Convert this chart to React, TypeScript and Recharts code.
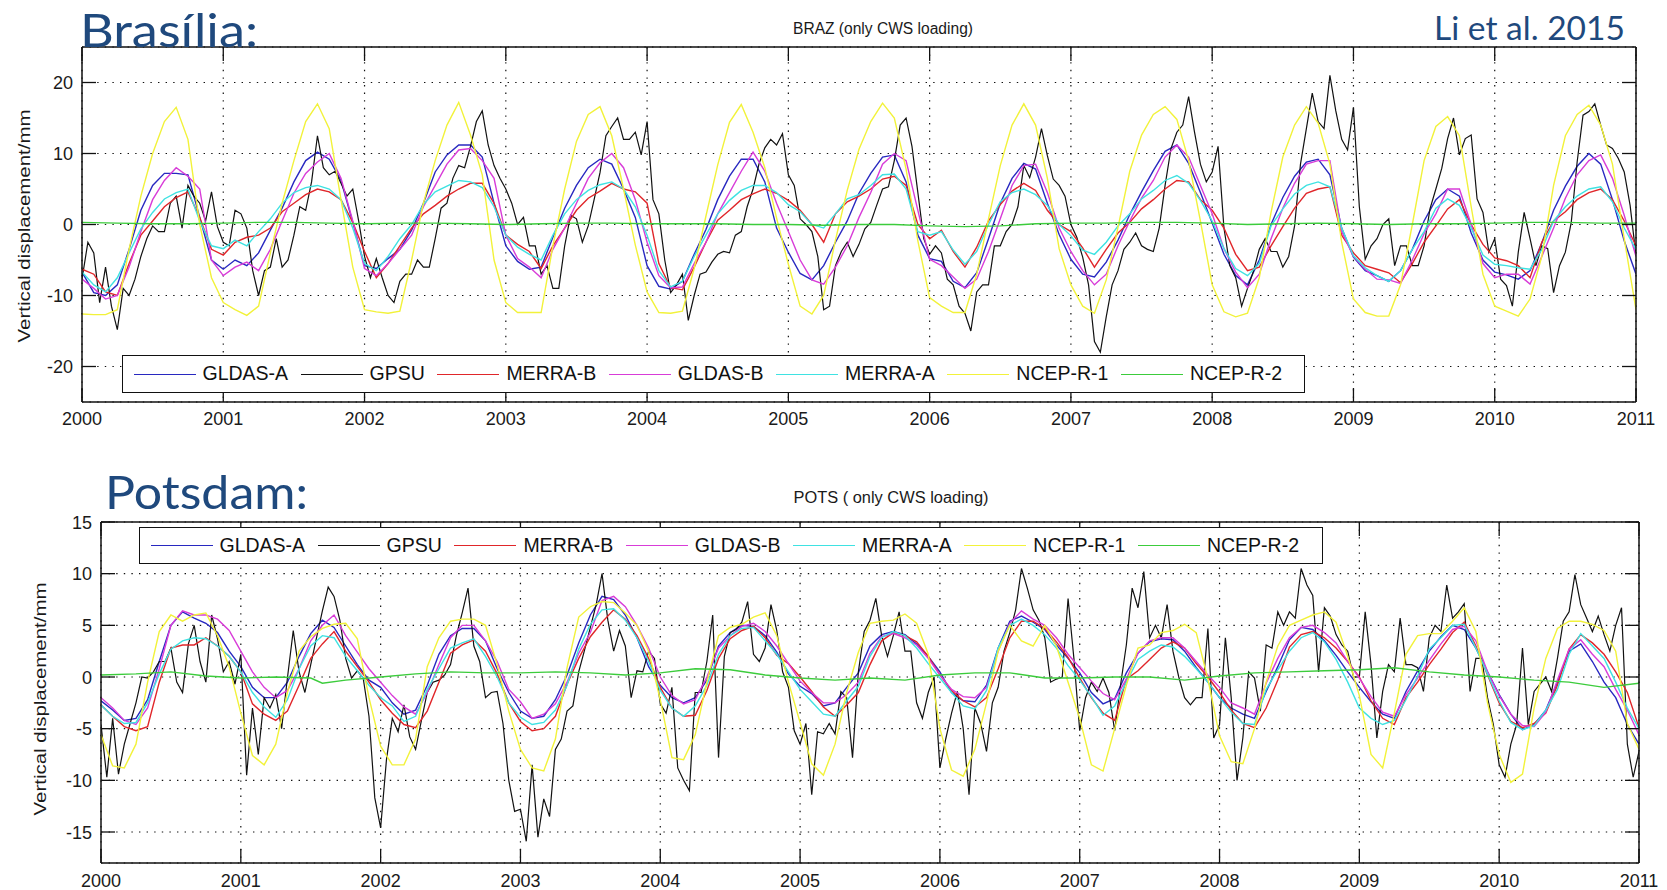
import React from "react";
import { LineChart, Line, XAxis, YAxis, CartesianGrid, Legend } from "recharts";

// ---------- axis ticks / labels ----------
const YEAR_TICKS = [2000, 2001, 2002, 2003, 2004, 2005, 2006, 2007, 2008, 2009, 2010, 2011];
const BRAZ_Y_TICKS = [-20, -10, 0, 10, 20];
const POTS_Y_TICKS = [-15, -10, -5, 0, 5, 10, 15];

const SERIES = ["GLDAS-A", "GPSU", "MERRA-B", "GLDAS-B", "MERRA-A", "NCEP-R-1", "NCEP-R-2"];
const COLORS = ["#2828c0", "#111111", "#e0262a", "#d83cd8", "#3fe2e2", "#f2f23a", "#3ccc3c"];

// ---------- BRAZ (monthly, Jan 2000 ... Jan 2011) ----------
const BRAZ_GLDAS_A = [
  -6.7, -9.6, -10, -8.5, -3.5, 2, 5.5, 7.2, 7.2, 7, 1, -5,
  -6.3, -5, -5.8, -4, -0.8, 2.3, 6, 9, 10.2, 9.2, 6.2, 0.3,
  -5.8, -6.2, -4.8, -3.5, -0.8, 3, 7.4, 9.8, 11.2, 11.2, 9.5, 3,
  -3, -5.2, -6.3, -6, -1.8, 2.3, 5.5, 8, 9.2, 8.5, 5, 1,
  -5.8, -8.7, -9.1, -8, -4.2, -0.7, 3.5, 6.8, 9.2, 9.2, 6, -0.5,
  -3.9, -6.9, -7.8, -5.8, -2.5, 0.5, 4.4, 7.2, 9.5, 9.8, 6, -1.5,
  -4.8, -5.2, -8, -8.9, -6.8, -2, 3, 6.5, 8.6, 7.8, 3, -1.4,
  -4.9, -7, -7.4, -5.3, -2.2, 1.4, 4.6, 7.6, 10.3, 11.2, 8.6, 4.5,
  0.2, -4.2, -7.2, -8.5, -5, 0, 3.8, 6.8, 8.8, 9.2, 7, -0.5,
  -4.6, -6.5, -7.2, -8, -6.5, -3.5, 0.5, 3.5, 5, 4, -1.2, -5,
  -6.7, -7.1, -7.7, -6.5, -2.6, 2, 5.4, 8.2, 10, 8.5, 3.5, -2.3,
  -7,
];
const BRAZ_GLDAS_B = [
  -7.7, -9, -10.5, -10, -6, -1, 3.5, 6.2, 8, 6.8, 5, -5,
  -7.2, -6, -5.3, -6.5, -3.5, 0.5, 4.4, 7.2, 8.8, 10, 6.5, 0.5,
  -6.2, -7.2, -5.5, -3.5, -1.5, 2.5, 5.5, 8.5, 10.5, 10.7, 9, 6.5,
  -1.5, -4.8, -6, -7.5, -3.5, -0.5, 3, 6.5, 8.7, 10, 8, 3.5,
  -2.5, -7.2, -8.9, -8.8, -5.5, -2.5, 1.5, 4.5, 7.5, 10.2, 7.5, 3,
  -1, -5, -7.8, -8.4, -6, -3, 1, 4.5, 8.5, 10, 9, 2,
  -4.9, -5.8, -7.4, -9, -7.7, -3.8, 0.8, 5.5, 8.3, 8.5, 4.5, -0.5,
  -3.8, -6.5, -8.5, -7, -3, 0.5, 3.7, 6.2, 9.5, 11.2, 9.5, 5.5,
  1.5, -3.4, -6.7, -8.9, -7, -2, 2.3, 5.8, 8.5, 9, 9, -1,
  -4.5, -6.3, -7.7, -7.8, -8.3, -5, -1.3, 1.5, 5, 5, 0, -5.5,
  -7.5, -7, -7, -8.4, -4.5, -0.5, 3.7, 7, 9, 9.8, 6.5, 1.3,
  -4.5,
];
const BRAZ_MERRA_A = [
  -6.7, -8.5, -9.5, -7.5, -4, -0.6, 1.7, 3.6, 4.5, 5, 0.5, -3,
  -3.4, -2.2, -3, -1, 0.8, 3, 4.5, 5.2, 5.5, 5, 3.5, -0.5,
  -5.5, -6.5, -4.5, -2, 0, 2.8, 4.6, 5.4, 6.2, 6, 5.2, 2.5,
  -1.5, -3.2, -4.2, -5, -1.5, 1.5, 3.5, 4.8, 5.6, 6, 5, 2.5,
  -1.5, -6.5, -8.8, -8, -4.5, -1.5, 1.5, 3.4, 4.8, 5.5, 5.5, 4.5,
  2.8, 1.8, 0, -0.5, 1.5, 3.6, 4.2, 5.5, 7, 7.1, 5, -1,
  -1.5, -1, -3.6, -5.6, -3.8, 0, 3.2, 4.5, 5, 4.2, 2.7, 0,
  -1.6, -3.6, -4.2, -2.5, -0.2, 1.5, 3.6, 4.8, 6.2, 6.9, 5.8, 3.4,
  0.5, -3.4, -6.2, -7.2, -5.5, -0.2, 2.2, 4.3, 5.5, 6, 5.3, -0.5,
  -4.4, -6.1, -7.2, -8, -6.5, -3.5, -1, 2.3, 3.6, 2.7, -0.5, -4.3,
  -5.6, -5.8, -6.1, -6.3, -3.5, 0.5, 2.5, 4, 5, 5.3, 3.2, -0.5,
  -3.5,
];
const BRAZ_MERRA_B = [
  -6.3, -7, -9.5, -10, -5.5, -1.5, 0.5, 2.5, 3.8, 4.6, 1, -3.5,
  -4.3, -2.5, -1.8, -1.5, -0.5, 1.8, 3, 4.2, 5, 4.6, 3.5, 0.3,
  -3.8, -7.5, -5.5, -3, -0.5, 1.5, 2.7, 4, 5, 5.8, 5.8, 3,
  -1.5, -2.8, -3.8, -6.2, -3, -0.5, 2, 3.7, 4.7, 5.8, 5, 4.6,
  3, -5.5, -8.9, -9.2, -6, -2.5, 0.6, 2, 3.5, 4.3, 5, 4.4,
  3.4, 2, 0, -2.5, 1.5, 3.2, 4, 5, 6.4, 6.8, 5.5, 0,
  -2, -0.8, -3.8, -6, -3.2, 0.5, 2.8, 4.7, 5.8, 4.8, 2, 0,
  -1, -3.3, -6, -3.5, -1.2, 0.3, 2.2, 3.5, 5, 6.2, 6, 3.5,
  2, -0.5, -4.2, -6.5, -6, -3, -0.3, 2.3, 4.4, 5, 5.3, -1.5,
  -4, -5.8, -6.3, -6.8, -8.2, -5.5, -2.5, -0.2, 2.2, 3.5, 0, -2.8,
  -4.7, -5.1, -5.8, -7.5, -2.5, 0.5, 1.8, 3.5, 4.5, 5, 3.5, 0.5,
  -3,
];
const BRAZ_NCEP_R1 = [
  -12.6, -12.7, -12.7, -12, -3.5, 4, 10, 14.5, 16.5, 12, 0, -7.5,
  -11, -12, -12.8, -11.5, -4, 3, 9, 14.5, 17, 13.5, 3.5, -6,
  -12, -12.3, -12.5, -12.2, -5, 3, 9, 14, 17.2, 12.6, 7, -5,
  -11, -12.4, -12.4, -12.4, -3, 5, 11.7, 15.5, 16.6, 12.5, 5, -2.9,
  -9.5, -12.4, -12.5, -12.2, -6.2, 1.2, 8.4, 14.4, 16.9, 13, 8, 0.9,
  -5.6, -11.5, -12.6, -10, -2.2, 4.8, 10.6, 14.5, 17.1, 15, 7.8, -2.3,
  -10.3, -11.5, -12.4, -12.4, -7, 0.8, 8.3, 14, 17, 14, 6.5, -3.4,
  -8.5, -11.5, -12.5, -7.8, -0.4, 7.5, 12.6, 15.5, 16.6, 14.8, 9, 0.5,
  -8.5, -12.3, -13, -12.5, -7.5, 1.7, 9.5, 14, 16.6, 14.3, 8.5, -2.5,
  -10.5, -12.4, -12.9, -12.9, -8.5, 0, 9, 13.8, 15.2, 12.5, 2.5, -7,
  -11.5, -12.2, -12.9, -10.5, -4.5, 5.5, 12.5, 15.5, 16.8, 14, 8.5, -2,
  -12,
];
// GPSU (twice a month)
const BRAZ_GPSU = [
  -7.7, -2.5, -4, -11, -6, -11.5, -14.8, -9, -10, -7.7, -4.5, -2, -0.2, -1, -1, 3, 4, -0.5, 5.5, 4, 3, 0.5, 4.6, -0.3,
  -2.5, -3, 2, 1.5, -0.5, -6.5, -10, -6.5, -6, -2, -6, -5, -1.5, 2.5, 2, 6, 12.5, 8, 7, 7.5, 5.8, 4, 5, 0.5,
  -4.5, -7.5, -4.8, -7.5, -10, -11, -8, -7, -7, -5, -6, -6, -2, 2.3, 3, 6.5, 8.3, 8, 11, 14.5, 16, 11.2, 8.3, 6.5,
  5, 3, 0, 1, -3, -3, -7, -5.8, -9, -9, -3, 1.3, 0.8, -2.5, -0.2, 3.5, 7.3, 12.5, 13.8, 15, 12, 12, 13, 9.8,
  14.5, 3.5, 1.5, -5, -9.6, -8.5, -7, -13.5, -10, -7, -6.7, -5.3, -4.2, -3.8, -4, -1.5, -1, 2.5, 5, 8.5, 10.8, 12, 11.2, 12.8,
  7, 5.5, 0.8, 0, -1, -4.5, -12, -11.5, -5.8, -3.8, -2.5, -4.5, -2.8, -0.6, 0.3, 2.7, 5, 5.3, 9, 14, 15, 11, 4.5, -2,
  -4.2, -3, -4, -7.7, -8.5, -11.5, -12.5, -15, -9.5, -8.5, -8.5, -3, -3, -1, 0, 2.5, 8.3, 6.6, 9.5, 13.5, 9.7, 6.4, 5.5, 4,
  0, -1.8, -4.6, -8.5, -16.5, -18, -13, -8.5, -6.5, -3.5, -2.5, -1.2, -3, -3.5, -3.8, -0.5, 5.5, 10.7, 13, 14, 18, 13, 8.5, 6,
  7.4, 11, -0.5, -5.8, -7.5, -11.5, -9, -6.6, -3.5, -2, -3.8, -3.8, -6, -4.5, -0.2, 8.5, 13.5, 18.5, 14.5, 13.5, 21, 16, 12, 10.5,
  16.5, 2.5, -4.9, -3, -2, 0, 0.8, -5.8, -3, -3, -5.8, -5.8, -3, 2.2, 5, 7.9, 12.1, 15, 9.8, 12.1, 12.6, 3.6, 1.7, -3.9,
  -2, -7.7, -8.6, -11.5, -3.9, 1.7, -2, -5.8, -3, -3.4, -9.6, -5.8, -3.9, 0.3, 8.8, 15.4, 15.9, 17, 14, 11.2, 10.7, 9.3, 7.4, 2.7,
  -4.4,
];
const BRAZ_NCEP_R2_T = [
  2000, 2000.25, 2000.5, 2000.75, 2001, 2001.25, 2001.5, 2001.75, 2002, 2002.25, 2002.5, 2002.75,
  2003, 2003.25, 2003.5, 2003.75, 2004, 2004.25, 2004.5, 2004.75, 2005, 2005.25, 2005.5, 2005.75,
  2006, 2006.25, 2006.5, 2006.75, 2007, 2007.25, 2007.5, 2007.75, 2008, 2008.25, 2008.5, 2008.75,
  2009, 2009.25, 2009.5, 2009.75, 2010, 2010.25, 2010.5, 2010.75, 2011,
];
const BRAZ_NCEP_R2 = [
  0.3, 0.2, 0.1, 0.1, 0.2, 0.3, 0.3, 0.2, 0.1, 0.2, 0.2, 0.1,
  0, 0.1, 0.2, 0.2, 0.1, 0.1, 0.1, 0, 0, -0.1, 0, 0,
  -0.2, -0.3, -0.2, 0.1, 0.2, 0.2, 0.3, 0.3, 0.2, 0, 0.1, 0.2,
  0.1, 0, 0.1, 0.1, 0.2, 0.3, 0.3, 0.2, 0.2,
];

// ---------- POTS (monthly, Jan 2000 ... Jan 2011) ----------
const POTS_GLDAS_A = [
  -2.3, -3.2, -4.2, -4, -2.2, 1.5, 5, 6.3, 5.7, 5.2, 4.3, 2.5,
  1, -1, -2, -2, -0.5, 2, 4.2, 5.5, 4.8, 3, 1.2, -0.3,
  -1, -2.5, -3.6, -3.2, -0.8, 2.2, 4, 4.7, 4.7, 3.5, 0.8, -1.5,
  -3.3, -4, -3.8, -2.2, 0.2, 3.3, 6, 7.8, 7.5, 6, 3.8, 1,
  -0.8, -2, -2.5, -2, -0.3, 3, 4.3, 5, 4.9, 4, 2.4, 0.3,
  -0.9, -1.6, -2.8, -2.5, -1, 0.4, 3, 4.1, 4.4, 4.1, 3.2, 2,
  0.5, -1.5, -2.3, -2.4, -0.8, 2.8, 5.4, 5.9, 5.3, 4.6, 3.1, 1.8,
  0.4, -1.5, -2.6, -2.1, 0.4, 2.3, 3.4, 3.7, 3.6, 2.5, 0.9, -0.5,
  -2, -3, -3.6, -4, -1.4, 1, 3.6, 4.8, 4.6, 3.5, 2.1, 0.5,
  -1, -2.4, -3.6, -4, -1.4, 0.6, 2.5, 3.9, 5, 4.6, 2.8, 0.5,
  -1.7, -3.6, -5.1, -4.6, -3.2, -0.5, 2.5, 3.2, 1.5, -0.5, -2, -4.6,
  -6.5,
];
const POTS_GLDAS_B = [
  -2, -3, -4.2, -4.6, -3, 0.8, 5, 6.4, 6, 6, 5.6, 4.5,
  2.5, 0.5, -1, -2, -1.3, 0.8, 3.5, 5, 6, 4, 2.4, 0.8,
  -0.5, -1.8, -2.9, -3.6, -1.5, 1.2, 3.8, 5, 5, 3.5, 1.5, -1.2,
  -2.4, -4, -3.6, -2.6, -0.5, 2.3, 4.3, 7.4, 7.8, 6.8, 5, 2.8,
  0, -1.8, -2.6, -2.2, 0, 2.8, 4, 4.9, 5.2, 4.4, 3, 1.3,
  -0.4, -1.5, -2.5, -2.5, -1.7, -0.5, 2.3, 3.9, 4.2, 3.8, 3.1, 1.8,
  0.2, -1.2, -1.9, -2, -1, 2.5, 5.2, 6.4, 5.6, 5, 3.8, 2.2,
  0.9, -0.4, -1.6, -2.2, -0.2, 2.3, 3.5, 3.8, 3.8, 2.8, 1.5, 0.2,
  -1, -2.5, -3, -3.6, -0.6, 1.8, 3.8, 4.8, 5, 4.3, 3.3, 1.5,
  -0.1, -1.9, -3.4, -3.8, -1.7, -0.1, 1.6, 3.2, 4.6, 4.9, 3.5, 0.5,
  -1.8, -3.6, -4.7, -4.8, -3.4, -0.3, 2.7, 3.6, 2.2, 1, -1.2, -3.2,
  -5.6,
];
const POTS_MERRA_A = [
  -2.7, -3.8, -4.5, -4.4, -2.5, 0.3, 2.7, 3.5, 3.8, 3.7, 3, 2,
  0.5, -1.5, -2.9, -3.9, -2.2, 0.8, 3, 4, 3.8, 2, 0.6, -0.8,
  -2, -2.8, -4.3, -3.8, -1.2, 0.8, 2.8, 3.3, 3.7, 2, 0, -2.5,
  -3.9, -4.6, -4.4, -3.2, -0.8, 2.7, 5.1, 6.5, 6.6, 5.5, 3.8, 1.5,
  -1.3, -3, -3.8, -2.8, -0.8, 2.2, 4, 4.7, 4.8, 3.5, 2.2, 0.5,
  -1.2, -2.4, -3.6, -3.8, -2.3, -0.9, 2, 3.8, 4.4, 4, 2.8, 1.3,
  -0.1, -1.5, -2.8, -3.1, -1.3, 2.8, 5, 5.6, 5, 4.1, 2.8, 1.1,
  -0.3, -1.9, -3.7, -2.8, -0.5, 1.7, 2.5, 3.1, 2.9, 2, 0.8, -0.5,
  -2, -3.4, -4.5, -4.6, -1.2, 0.7, 2.5, 3.8, 4.3, 3.4, 1.7, -0.5,
  -3, -4, -4.6, -4.2, -2.2, 0.1, 2.7, 3.8, 5, 5.1, 2.8, 0.3,
  -2.3, -4.4, -5.1, -4.7, -3.2, -1.2, 2.2, 4.2, 3, 1.8, -0.5, -3,
  -5,
];
const POTS_MERRA_B = [
  -2.7, -3.8, -4.8, -5.2, -4.8, -0.5, 2.8, 3.1, 3.1, 3.8, 3, 2,
  0.5, -2.6, -3.6, -4.2, -3.3, -0.8, 1.8, 3.2, 4.4, 2.5, 1, -0.5,
  -2.2, -3.5, -4.6, -4.9, -3.3, -0.5, 2.3, 3.1, 3.6, 2.5, 0.3, -2.5,
  -4.3, -5.2, -5, -3.8, -0.7, 1.8, 3.9, 5.3, 6.5, 5.6, 4, 1.8,
  -1, -3, -3.8, -3.7, -1.3, 1.8, 3.7, 4.5, 4.9, 3.8, 2.1, 1.3,
  0, -1.4, -2.9, -3.8, -2.7, -1.5, 1.2, 3.5, 4.3, 4, 3.4, 2,
  0.2, -1.3, -2.3, -2.9, -2, 0.8, 3.8, 5.4, 5.4, 4.7, 3.4, 1.9,
  -0.1, -2, -3.5, -4.2, -0.2, 0.6, 1.7, 2.8, 3.4, 2.8, 1.3, 0,
  -1.5, -3.2, -4.5, -4.9, -3, -0.3, 2.9, 4.1, 4.4, 3.8, 2.8, 1.5,
  0, -2.3, -4, -4.6, -2, -0.5, 1.2, 2.7, 4.3, 5.3, 3, 0.2,
  -2.5, -4.3, -4.9, -4.5, -3.5, -0.8, 2.7, 4.1, 3.3, 2.2, 0.5, -1.5,
  -4.9,
];
const POTS_NCEP_R1 = [
  -5.6, -8.6, -8.8, -6.5, -0.5, 4.4, 6, 5.4, 6, 6.2, 4, 1,
  -3.5, -7.6, -8.5, -6.5, -1.5, 2.5, 3.9, 4.7, 5.1, 5.2, 3.7, -2,
  -6.7, -8.5, -8.5, -6, 1, 3.8, 5.4, 5.6, 5.6, 5, 1.2, -3.3,
  -7, -8.8, -9.1, -6, 0.9, 5.8, 6.8, 7.3, 7.2, 6.2, 5, 2.5,
  -2.2, -7.8, -8, -5.6, -0.5, 4, 4.8, 5.1, 5.8, 6.2, 4, -0.5,
  -4.4, -8.4, -9.5, -6.5, -1.5, 2.4, 5.2, 5.4, 5.5, 6.1, 5.2, 2.2,
  -5, -9, -9.6, -7, -2.5, 2.5, 5, 3.5, 3, 5, 3, -0.5,
  -4, -8.5, -9.1, -5, -0.8, 2.8, 3.1, 4.3, 4.5, 5.1, 4.3, -0.2,
  -5.7, -8.2, -8.4, -5, -0.5, 3, 5, 5.5, 6, 6.3, 5.3, 2,
  -1.8, -7.5, -8.8, -3.5, 2.2, 4, 4.2, 4.2, 5.4, 6.7, 4.4, -2.5,
  -7.5, -10.2, -9.4, -3, 1.8, 4.7, 5.4, 5.4, 5.1, 4.5, 2.5, -4.5,
  -7,
];
const POTS_GPSU = [
  -4.6, -9.7, -4, -9.4, -6.5, -4.5, -2.5, 0, -0.1, 0.5, 1.5, 1.5, 2.8, -0.5, -1.5, 3.2, 5, 1.5, -0.5, 6, 3.7, 0.5, 1.5, -0.7,
  2.2, -9.5, -3, -7.5, -2, -3, -1.7, -5, -0.1, 4.5, 0.5, -1.5, 1.2, 3.8, 6.4, 8.7, 7.8, 5.5, 1.8, -0.1, 0.6, -0.1, -3.8, -11.7,
  -14.6, -8, -4, -5.3, -2.7, -5.8, -7, -4.2, -1.5, -0.5, -0.3, 0.2, 1.2, 4, 6.2, 8.6, 3, 1.5, -2, -1.5, -1.4, -4.5, -10, -13,
  -12.8, -15.9, -8.5, -15.5, -11.8, -13.5, -7, -6, -3.3, -2.8, 0.5, 2.6, 4.8, 7, 10, 5.5, 2.5, 4.5, 3, -2, 0.6, 0.5, 2.5, 1.8,
  -2.6, -3.5, -1, -8.8, -10, -11, -1.5, -1.5, 1.5, 6, -7.8, 2, 4.3, 4.6, 5.3, 7.3, 2.2, 1.5, 2.8, 7, 4.5, 0.5, -1, -5.2,
  -6.5, -4.5, -11.4, -5.3, -5.5, -4.5, -5.5, -1.4, -2, -7.8, 0.5, 4.4, 5.5, 7.6, 4, 2, 4, 6.3, 2.5, 2.5, -2.5, -4, -1.5, 0,
  -8.8, -6, -3.5, -1.4, -5, -11.4, -3, -4.5, -7.2, -2.5, -1, 2.5, 4.3, 6.5, 10.5, 8.6, 6.5, 5.5, 3.8, -0.5, -0.2, 0, 7.6, 1.8,
  -5.2, -2, -0.5, -1.4, -0.1, -1.5, -5.2, -0.8, 3.1, 8.6, 6.7, 10.2, 3.8, 5, 3.8, 7, 2.5, 0, -2, -2.7, -2, -2, 4.7, -5.9,
  -4.6, 3.8, -2, -10, -5.9, 0.5, -0.1, -3.3, 3.1, 2.8, 6.3, 5, 6.3, 5.7, 10.5, 8.9, 7.9, 0.5, 6.7, 5.9, 4.1, 3.1, 2.5, 0,
  0, 6.3, 1.2, -5.9, -1.4, 1.2, 0.5, 5.7, 1.2, 1.2, 0.9, -1.4, 3.8, 5, 4.4, 8.9, 5.7, 6.3, 7.1, -1.4, 1.8, 1.8, -2, -4.6,
  -8.5, -9.7, -6.5, -4.6, 2.8, -4.6, -1.4, -0.7, 0, -1.4, 1.8, 5.4, 6.3, 9.9, 7, 5.7, 4.4, 5.9, 4.1, 2.5, 5, 6.7, -6.5, -9.7,
  -7.2,
];
const POTS_NCEP_R2_T = [
  2000, 2000.25, 2000.5, 2000.75, 2001, 2001.25, 2001.5, 2001.6, 2001.75, 2002, 2002.25, 2002.5, 2002.75,
  2003, 2003.25, 2003.5, 2003.75, 2004, 2004.25, 2004.5, 2004.75, 2005, 2005.25, 2005.5, 2005.75,
  2006, 2006.25, 2006.5, 2006.75, 2007, 2007.25, 2007.5, 2007.75, 2008, 2008.25, 2008.5, 2008.75,
  2009, 2009.25, 2009.5, 2009.75, 2010, 2010.25, 2010.5, 2010.75, 2011,
];
const POTS_NCEP_R2 = [
  0.2, 0.3, 0.5, 0.1, -0.1, 0, -0.1, -0.6, -0.3, 0, 0.3, 0.5, 0.4,
  0.4, 0.5, 0.4, 0.2, 0.4, 0.8, 0.7, 0.2, -0.1, -0.3, -0.1, -0.3,
  0.2, 0.4, 0.4, -0.1, -0.1, 0, 0, -0.3, 0.1, 0.4, 0.5, 0.6,
  0.7, 0.9, 0.5, 0.2, 0, -0.3, -0.5, -1, -0.6,
];

// ---------- table building ----------
type Row = Record<string, number | undefined>;
function buildRows(
  monthly: Record<string, number[]>,
  gpsu: number[],
  greenT: number[],
  greenV: number[]
): Row[] {
  const green = new Map<number, number>();
  greenT.forEach((t, i) => green.set(Math.round((t - 2000) * 24), greenV[i]));
  const n = gpsu.length;
  const rows: Row[] = [];
  for (let j = 0; j < n; j++) {
    const r: Row = { t: 2000 + j / 24, GPSU: gpsu[j] };
    if (j % 2 === 0) {
      for (const k of Object.keys(monthly)) r[k] = monthly[k][j / 2];
    }
    if (green.has(j)) r["NCEP-R-2"] = green.get(j);
    rows.push(r);
  }
  return rows;
}

const BRAZ_ROWS = buildRows(
  {
    "GLDAS-A": BRAZ_GLDAS_A,
    "MERRA-B": BRAZ_MERRA_B,
    "GLDAS-B": BRAZ_GLDAS_B,
    "MERRA-A": BRAZ_MERRA_A,
    "NCEP-R-1": BRAZ_NCEP_R1,
  },
  BRAZ_GPSU,
  BRAZ_NCEP_R2_T,
  BRAZ_NCEP_R2
);
const POTS_ROWS = buildRows(
  {
    "GLDAS-A": POTS_GLDAS_A,
    "MERRA-B": POTS_MERRA_B,
    "GLDAS-B": POTS_GLDAS_B,
    "MERRA-A": POTS_MERRA_A,
    "NCEP-R-1": POTS_NCEP_R1,
  },
  POTS_GPSU,
  POTS_NCEP_R2_T,
  POTS_NCEP_R2
);

// ---------- styling ----------
const FONT = "'Liberation Sans', Arial, Helvetica, sans-serif";
const HEAD_FONT = "Lato, 'Open Sans', sans-serif";
const HEAD_COLOR = "#1F497D";
const TICK_LEN = 14;
const PAGE_W = 1667;

function LegendBox() {
  return (
    <div
      style={{
        display: "flex",
        alignItems: "center",
        width: "100%",
        height: "100%",
        boxSizing: "border-box",
        paddingLeft: 10.5,
        border: "1.5px solid #111",
        background: "#fff",
      }}
    >
      {SERIES.map((name, i) => (
        <div key={name} style={{ display: "flex", alignItems: "center", marginRight: 12.5 }}>
          <div style={{ width: 62, height: 0, borderTop: `1.6px solid ${COLORS[i]}`, marginRight: 7 }} />
          <span style={{ fontSize: 19.5, fontFamily: FONT, color: "#111", whiteSpace: "nowrap", lineHeight: 1 }}>
            {name}
          </span>
        </div>
      ))}
    </div>
  );
}

type PanelProps = {
  top: number;
  height: number;
  plotLeft: number;
  plotRight: number;
  plotTop: number;
  plotBottom: number;
  rows: Row[];
  yDomain: [number, number];
  yTicks: number[];
  xLabelOffset: number;
  legend: { left: number; top: number; width: number; height: number };
};

function Panel(p: PanelProps) {
  const YW = 60;
  const XH = 20;
  const margin = {
    left: p.plotLeft - YW,
    right: PAGE_W - p.plotRight - 1,
    top: p.plotTop - p.top - 1,
    bottom: p.top + p.height - p.plotBottom - XH,
  };
  const axisLine = { stroke: "#111", strokeWidth: 1.5 };
  const bottomTick = (props: any) => {
    const { x, y, payload } = props;
    return (
      <g>
        <line x1={x} x2={x} y1={y} y2={y - TICK_LEN} stroke="#111" strokeWidth={1.3} />
        <text x={x} y={y + p.xLabelOffset} textAnchor="middle" fontSize={18} fontFamily={FONT} fill="#1a1a1a">
          {payload.value}
        </text>
      </g>
    );
  };
  const topTick = (props: any) => {
    const { x, y } = props;
    return <line x1={x} x2={x} y1={y} y2={y + TICK_LEN} stroke="#111" strokeWidth={1.3} />;
  };
  const leftTick = (props: any) => {
    const { x, y, payload } = props;
    return (
      <g>
        <line x1={x} x2={x + TICK_LEN} y1={y} y2={y} stroke="#111" strokeWidth={1.3} />
        <text x={x - 9} y={y + 6.5} textAnchor="end" fontSize={18} fontFamily={FONT} fill="#1a1a1a">
          {payload.value}
        </text>
      </g>
    );
  };
  const rightTick = (props: any) => {
    const { x, y } = props;
    return <line x1={x - TICK_LEN} x2={x} y1={y} y2={y} stroke="#111" strokeWidth={1.3} />;
  };
  return (
    <div style={{ position: "absolute", left: 0, top: p.top, width: PAGE_W, height: p.height }}>
      <LineChart width={PAGE_W} height={p.height} data={p.rows} margin={margin}>
        <CartesianGrid xAxisId="x" yAxisId="y" stroke="#111" strokeWidth={1.2} strokeDasharray="1.4 6.2" />
        <XAxis
          xAxisId="x"
          dataKey="t"
          type="number"
          domain={[2000, 2011]}
          ticks={YEAR_TICKS}
          interval={0}
          allowDataOverflow
          height={XH}
          axisLine={axisLine}
          tickLine={false}
          tickSize={0}
          tickMargin={0}
          tick={bottomTick}
        />
        <XAxis
          xAxisId="xt"
          orientation="top"
          dataKey="t"
          type="number"
          domain={[2000, 2011]}
          ticks={YEAR_TICKS}
          interval={0}
          allowDataOverflow
          height={1}
          axisLine={axisLine}
          tickLine={false}
          tickSize={0}
          tickMargin={0}
          tick={topTick}
        />
        <YAxis
          yAxisId="y"
          type="number"
          domain={p.yDomain}
          ticks={p.yTicks}
          interval={0}
          allowDataOverflow
          width={YW}
          axisLine={axisLine}
          tickLine={false}
          tickSize={0}
          tickMargin={0}
          tick={leftTick}
        />
        <YAxis
          yAxisId="yr"
          orientation="right"
          type="number"
          domain={p.yDomain}
          ticks={p.yTicks}
          interval={0}
          allowDataOverflow
          width={1}
          axisLine={axisLine}
          tickLine={false}
          tickSize={0}
          tickMargin={0}
          tick={rightTick}
        />
        {SERIES.map((name, i) => (
          <Line
            key={name}
            xAxisId="x"
            yAxisId="y"
            dataKey={name}
            type="linear"
            stroke={COLORS[i]}
            strokeWidth={name === "GPSU" ? 1.2 : 1.4}
            dot={false}
            activeDot={false}
            connectNulls
            isAnimationActive={false}
          />
        ))}
        <Legend
          layout="horizontal"
          verticalAlign="middle"
          align="center"
          content={() => <LegendBox />}
          wrapperStyle={{
            position: "absolute",
            left: p.legend.left,
            top: p.legend.top - p.top,
            width: p.legend.width,
            height: p.legend.height,
            margin: 0,
          }}
        />
      </LineChart>
    </div>
  );
}

export default function App() {
  return (
    <div style={{ position: "absolute", left: 0, top: 0, width: PAGE_W, height: 890, background: "#fff" }}>
      <Panel
        top={0}
        height={445}
        plotLeft={82}
        plotRight={1636}
        plotTop={47}
        plotBottom={402}
        rows={BRAZ_ROWS}
        yDomain={[-25, 25]}
        yTicks={BRAZ_Y_TICKS}
        xLabelOffset={23}
        legend={{ left: 122, top: 355, width: 1183, height: 38 }}
      />
      <Panel
        top={445}
        height={445}
        plotLeft={101}
        plotRight={1639}
        plotTop={522}
        plotBottom={863}
        rows={POTS_ROWS}
        yDomain={[-18, 15]}
        yTicks={POTS_Y_TICKS}
        xLabelOffset={24}
        legend={{ left: 139, top: 527, width: 1184, height: 37 }}
      />
      <svg
        width={PAGE_W}
        height={890}
        style={{ position: "absolute", left: 0, top: 0, pointerEvents: "none" }}
      >
        <text x={80} y={47} fontSize={47} fontFamily={HEAD_FONT} fill={HEAD_COLOR} textLength={178} lengthAdjust="spacingAndGlyphs">
          Brasília:
        </text>
        <text x={1434} y={40} fontSize={33} fontFamily={HEAD_FONT} fill={HEAD_COLOR} textLength={191} lengthAdjust="spacingAndGlyphs">
          Li et al. 2015
        </text>
        <text x={105} y={509} fontSize={47} fontFamily={HEAD_FONT} fill={HEAD_COLOR} textLength={203} lengthAdjust="spacingAndGlyphs">
          Potsdam:
        </text>
        <text x={883} y={34} textAnchor="middle" fontSize={16} fontFamily={FONT} fill="#1a1a1a" textLength={180} lengthAdjust="spacingAndGlyphs">
          BRAZ (only CWS loading)
        </text>
        <text x={891} y={503} textAnchor="middle" fontSize={16} fontFamily={FONT} fill="#1a1a1a" textLength={195} lengthAdjust="spacingAndGlyphs">
          POTS ( only CWS loading)
        </text>
        <text
          x={29.5}
          y={226}
          transform="rotate(-90 29.5 226)"
          textAnchor="middle"
          fontSize={16}
          fontFamily={FONT}
          fill="#1a1a1a"
          textLength={233}
          lengthAdjust="spacingAndGlyphs"
        >
          Vertical displacement/mm
        </text>
        <text
          x={46}
          y={699}
          transform="rotate(-90 46 699)"
          textAnchor="middle"
          fontSize={16}
          fontFamily={FONT}
          fill="#1a1a1a"
          textLength={233}
          lengthAdjust="spacingAndGlyphs"
        >
          Vertical displacement/mm
        </text>
      </svg>
    </div>
  );
}
